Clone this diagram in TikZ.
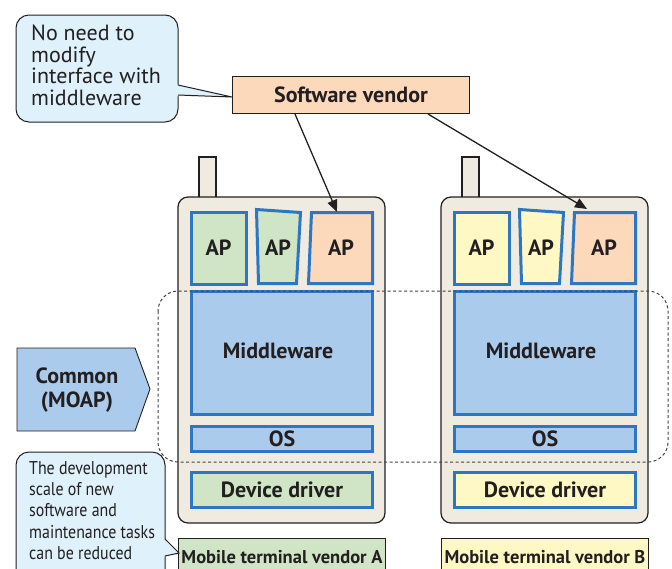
\documentclass[tikz,border=0pt]{standalone}
\usepackage{fontspec}
\setmainfont{PT Sans}
\newfontfamily\condfont[FakeStretch=0.86]{PT Sans}
\usetikzlibrary{arrows.meta}
\definecolor{layblue}{HTML}{2F76C2}
\definecolor{mwblue}{HTML}{AACBEB}
\definecolor{apgreen}{HTML}{CFE5C5}
\definecolor{appeach}{HTML}{FDD9BC}
\definecolor{apyellow}{HTML}{FEF9C4}
\definecolor{callfill}{HTML}{DFF1FA}
\definecolor{beige}{HTML}{EFEBE1}
\definecolor{txt}{HTML}{231F20}
\tikzset{
  layer/.style={draw=layblue, line width=3pt, inner sep=0pt},
  bodyshape/.style={draw=txt, line width=1.2pt, fill=beige, rounded corners=10pt},
  lbl/.style={font=\bfseries\fontsize{22}{24}\selectfont, text=txt},
  thinbox/.style={draw=txt, line width=0.9pt, inner sep=0pt},
  callout/.style={draw=txt, line width=1pt, fill=callfill, rounded corners=13pt},
  conn/.style={draw=txt, line width=1.3pt, -{Triangle[length=12pt,width=10pt]}},
  dashregion/.style={draw=txt!85, line width=1pt, dash pattern=on 3pt off 2.5pt, rounded corners=20pt}
}
\begin{document}
\begin{tikzpicture}[x=1pt,y=-1pt]
\useasboundingbox (0,0) rectangle (672,568);
\clip (0,0) rectangle (672,568);

% ---------- callout 1
\draw[callout] (16,15) rectangle (178,122);
\fill[callfill] (175,84) -- (232,97) -- (175,96) -- cycle;
\draw[txt, line width=1pt] (178,85) -- (232,97) -- (178,95);
\node[anchor=north west, inner sep=0pt, align=left, text=txt,
      font=\fontsize{22}{21.4}\selectfont] (c1) at (31,25)
  {No need to\\modify\\interface with\\middleware};

% ---------- software vendor
\node[thinbox, fill=appeach, minimum width=237, minimum height=37, lbl] (sv) at (351,95) {Software vendor};

% ---------- phone A
\draw[bodyshape, rounded corners=0pt] (199,157) rectangle (216,199);
\draw[bodyshape] (178,197) rectangle (385,523);
\node[layer, fill=apgreen, minimum width=55, minimum height=72, lbl] (apA1) at (218.5,248) {AP};
\draw[layer, fill=apgreen] (256.5,209.5) -- (300.5,212.5) -- (296.5,283.5) -- (258.5,283.5) -- cycle;
\node[lbl] (apA2) at (278,248) {AP};
\draw[layer, fill=appeach] (311.5,212.5) -- (372.5,212.5) -- (372.5,283.5) -- (308.5,283.5) -- cycle;
\node[lbl] (apA3) at (341,248) {AP};
\node[layer, fill=mwblue, minimum width=181, minimum height=123] (mwA) at (282,353) {};
\node[lbl] at (278,351) {Middleware};
\node[layer, fill=mwblue, minimum width=181, minimum height=25, lbl] (osA) at (282,439) {OS};
\node[layer, fill=apgreen, minimum width=181, minimum height=35, lbl] (ddA) at (282,490) {Device driver};
\node[thinbox, fill=apgreen, minimum width=207, minimum height=38, text=txt,
      font=\bfseries\fontsize{18.5}{20}\selectfont] (venA) at (282,557) {Mobile terminal vendor A};

% ---------- phone B
\draw[bodyshape, rounded corners=0pt] (462,157) rectangle (479,199);
\draw[bodyshape] (441,197) rectangle (648,523);
\node[layer, fill=apyellow, minimum width=55, minimum height=72, lbl] (apB1) at (481.5,248) {AP};
\draw[layer, fill=apyellow] (519.5,209.5) -- (563.5,212.5) -- (559.5,283.5) -- (521.5,283.5) -- cycle;
\node[lbl] (apB2) at (541,248) {AP};
\draw[layer, fill=appeach] (574.5,212.5) -- (635.5,212.5) -- (635.5,283.5) -- (571.5,283.5) -- cycle;
\node[lbl] (apB3) at (604,248) {AP};
\node[layer, fill=mwblue, minimum width=181, minimum height=123] (mwB) at (545,353) {};
\node[lbl] at (541,351) {Middleware};
\node[layer, fill=mwblue, minimum width=181, minimum height=25, lbl] (osB) at (545,439) {OS};
\node[layer, fill=apyellow, minimum width=181, minimum height=35, lbl] (ddB) at (545,490) {Device driver};
\node[thinbox, fill=apyellow, minimum width=207, minimum height=38, text=txt,
      font=\bfseries\fontsize{18.5}{20}\selectfont] (venB) at (545,557) {Mobile terminal vendor B};

% ---------- dashed common region
\draw[dashregion] (158,291) rectangle (668,462);

% ---------- common pentagon
\draw[fill=mwblue, draw=txt, line width=0.9pt] (17,348) -- (135,348) -- (150,389) -- (135,431) -- (17,431) -- cycle;
\node[lbl, align=center, font=\bfseries\fontsize{22}{24}\selectfont] (common) at (77,390) {Common\\(MOAP)};

% ---------- callout 2
\draw[callout] (16,452) rectangle (165,600);
\fill[callfill] (162,537) -- (179,553) -- (162,557) -- cycle;
\draw[txt, line width=1pt] (165,539) -- (179,553) -- (165,556);
\node[anchor=north west, inner sep=0pt, align=left, text=txt,
      font=\condfont\fontsize{18.5}{21.4}\selectfont] (c2) at (29,461)
  {The development\\scale of new\\software and\\maintenance tasks\\can be reduced};

% ---------- connectors
\coordinate (s1) at (295,114);
\coordinate (s2) at (428,114);
\coordinate (t1) at (337,212);
\coordinate (t2) at (587,209);
\draw[conn] (s1) -- (t1);
\draw[conn] (s2) -- (t2);
\end{tikzpicture}
\end{document}
